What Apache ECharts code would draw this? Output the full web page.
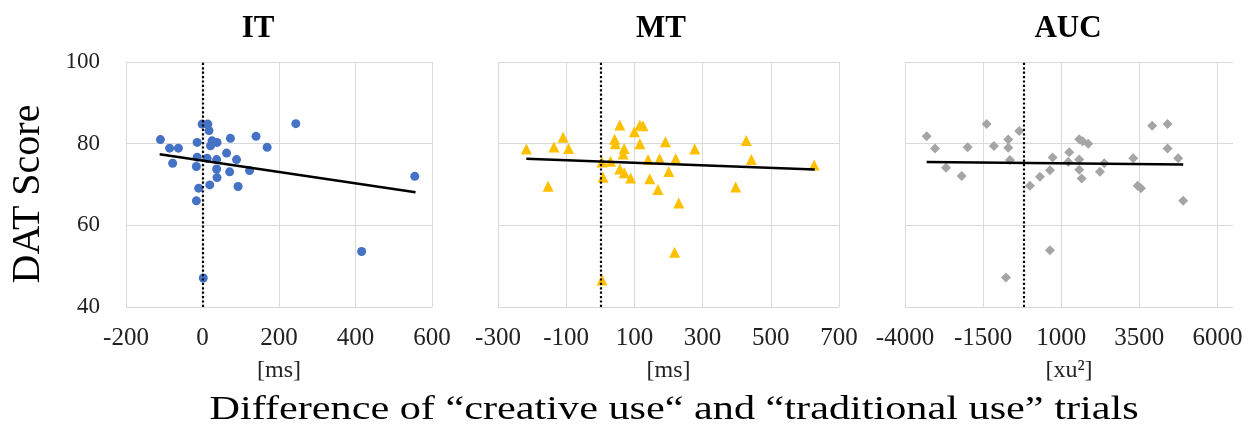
<!DOCTYPE html>
<html>
<head>
<meta charset="utf-8">
<script src="https://cdn.jsdelivr.net/npm/echarts@6/dist/echarts.min.js"></script>
<style>
  html, body { margin: 0; padding: 0; background: #fff; }
  #chart { width: 1253px; height: 433px; }
</style>
</head>
<body>
<div id="chart"></div>
<script>
// panel titles and axis units
const panelTitles = ['IT', 'MT', 'AUC'];
const unitLabels = ['[ms]', '[ms]', '[xu²]'];

// x axis ranges [min, max, interval]
const itAxis = [-200, 600, 200];
const mtAxis = [-300, 700, 200];
const aucAxis = [-4000, 6500, 2500];

// IT: [difference, DAT score]
const itPoints = [
  [-110, 81.0], [-86, 78.9], [-63, 78.9], [-78, 75.2], [-14, 80.3],
  [-1, 84.8], [14, 84.8], [17, 83.2], [25, 80.7], [38, 80.3],
  [21, 79.5], [73, 81.3], [140, 81.8], [169, 79.1], [63, 77.7],
  [-14, 76.7], [12, 76.4], [37, 76.1], [89, 76.1], [-16, 74.4],
  [37, 73.8], [71, 73.1], [123, 73.4], [38, 71.7], [19, 69.9],
  [93, 69.5], [-10, 69.1], [-16, 66.0], [2, 47.1], [244, 84.9],
  [555, 72.0], [416, 53.6]
];
const itTrend = [[-112, 77.4], [557, 68.1]];

// MT
const mtPoints = [
  [-217, 78.7], [-153, 69.6], [-136, 79.2], [-109, 81.6], [-93, 78.8],
  [5, 75.5], [8, 71.8], [5, 46.6], [30, 75.7], [57, 84.6],
  [42, 81.1], [44, 80.0], [70, 78.8], [67, 77.5], [57, 73.8],
  [70, 72.9], [89, 71.6], [100, 82.9], [116, 84.6], [125, 84.4],
  [116, 80.0], [140, 76.1], [145, 71.4], [174, 76.3], [169, 68.8],
  [191, 80.5], [201, 73.2], [221, 76.3], [230, 65.5], [218, 53.4],
  [277, 78.7], [397, 69.4], [428, 80.8], [443, 76.1], [627, 74.8]
];
const mtTrend = [[-217, 76.3], [629, 73.7]];

// AUC
const aucPoints = [
  [-3306, 81.8], [-3040, 78.8], [-2688, 74.1], [-2186, 72.1], [-1994, 79.1],
  [-1386, 84.8], [-1152, 79.4], [-694, 81.0], [-694, 79.0], [-640, 76.0],
  [-342, 83.1], [-768, 47.2], [0, 69.7], [320, 71.9], [640, 73.5],
  [726, 76.6], [640, 53.9], [1258, 77.9], [1226, 75.5], [1578, 81.1],
  [1686, 80.6], [1866, 80.0], [1578, 76.1], [1578, 73.6], [1654, 71.5],
  [2240, 73.1], [2378, 75.2], [3306, 76.4], [3446, 69.7], [3552, 69.1],
  [3914, 84.4], [4406, 84.8], [4406, 78.8], [4746, 76.4], [4906, 66.0]
];
const aucTrend = [[-3306, 75.5], [4906, 74.9]];

// position of the dotted reference line on each panel
const refLines = [0, 0, -200];

const yRange = [40, 100, 20];

const serif = '"Liberation Serif", "Times New Roman", serif';
const gridColor = '#d9d9d9';

const chart = echarts.init(document.getElementById('chart'));

const grids = [
  { left: 126, top: 62, width: 306, height: 245 },
  { left: 498, top: 62, width: 341, height: 245 },
  { left: 905, top: 62, width: 328, height: 245 },
];

const axes = [itAxis, mtAxis, aucAxis];

const xAxis = axes.map((a, i) => ({
  type: 'value',
  gridIndex: i,
  min: a[0],
  max: a[1],
  interval: a[2],
  name: unitLabels[i],
  nameLocation: 'middle',
  nameGap: 52,
  nameTextStyle: { fontFamily: serif, fontSize: 24, color: '#222' },
  axisLine: { show: false },
  axisTick: { show: false },
  axisLabel: {
    fontFamily: serif, fontSize: 25, color: '#222', margin: 19,
    showMaxLabel: i !== 2,
    formatter: (v) => String(v),
  },
  splitLine: { lineStyle: { color: gridColor, width: 1 }, showMaxLine: i !== 2 },
}));

const yAxis = axes.map((a, i) => ({
  type: 'value',
  gridIndex: i,
  min: yRange[0],
  max: yRange[1],
  interval: yRange[2],
  axisLine: { show: false },
  axisTick: { show: false },
  axisLabel: {
    show: i === 0, fontFamily: serif, fontSize: 23, color: '#222', margin: 26,
  },
  splitLine: { lineStyle: { color: gridColor, width: 1 } },
}));

const pointSets = [itPoints, mtPoints, aucPoints];
const trends = [itTrend, mtTrend, aucTrend];
const symbols = ['circle', 'triangle', 'diamond'];
const symbolSizes = [9, 11, 10];
const colors = ['#4472C4', '#FFC000', '#A5A5A5'];

const series = [];
pointSets.forEach((pts, i) => {
  series.push({
    type: 'scatter',
    xAxisIndex: i,
    yAxisIndex: i,
    data: pts,
    symbol: symbols[i],
    symbolSize: symbolSizes[i],
    itemStyle: { color: colors[i], opacity: 1 },
    z: 3,
    markLine: {
      silent: true,
      symbol: 'none',
      label: { show: false },
      lineStyle: { color: '#000', type: 'dotted', width: 2.2 },
      data: [{ xAxis: refLines[i] }],
    },
  });
  series.push({
    type: 'line',
    xAxisIndex: i,
    yAxisIndex: i,
    data: trends[i],
    symbol: 'none',
    lineStyle: { color: '#000', width: 2.5 },
    z: 4,
  });
});

const titleX = [258, 661, 1068];

const option = {
  animation: false,
  grid: grids,
  xAxis: xAxis,
  yAxis: yAxis,
  series: series,
  graphic: [
    ...panelTitles.map((t, i) => ({
      type: 'text',
      x: titleX[i],
      y: 29,
      style: {
        text: t,
        font: 'bold 31px ' + serif,
        fill: '#000',
        textAlign: 'center',
        textVerticalAlign: 'middle',
      },
    })),
    {
      type: 'text',
      x: 28,
      y: 194,
      rotation: Math.PI / 2,
      style: {
        text: 'DAT Score',
        font: '40px ' + serif,
        fill: '#000',
        textAlign: 'center',
        textVerticalAlign: 'middle',
      },
    },
    {
      type: 'text',
      x: 674,
      y: 410,
      scaleX: 1.28,
      style: {
        text: 'Difference of “creative use“ and “traditional use” trials',
        font: '33px ' + serif,
        fill: '#000',
        textAlign: 'center',
        textVerticalAlign: 'middle',
      },
    },
  ],
};

chart.setOption(option);
</script>
</body>
</html>
